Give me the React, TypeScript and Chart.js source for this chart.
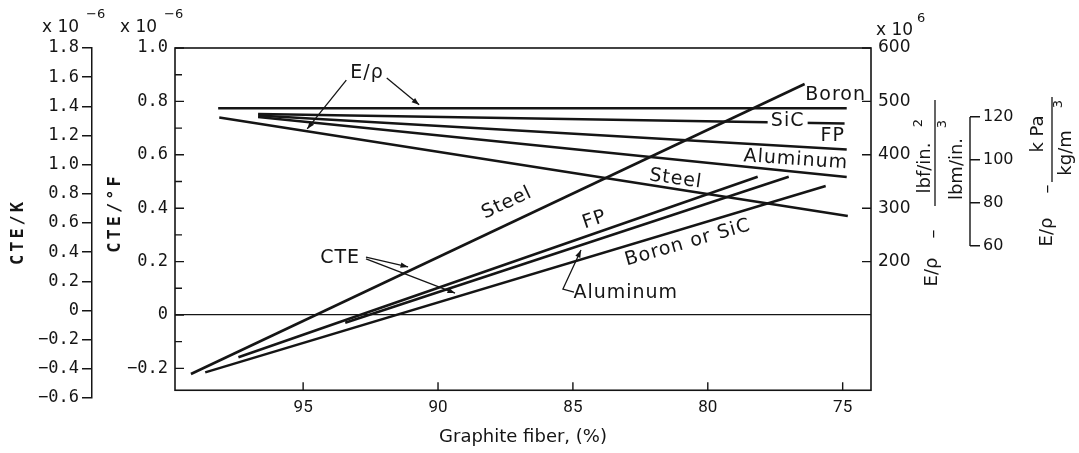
import React, { useEffect, useRef } from 'react';
import { Chart, registerables } from 'chart.js';

Chart.register(...registerables);

// ---- Data (graphite fiber %, value) ----
// Specific modulus E/rho lines (lbf/in.^2 / lbm/in.^3, x 10^6)
const boronEFiber = [98.15, 74.85];
const boronE = [487.1, 487.1];
const sicEFiber = [96.67, 74.93];
const sicE = [476.4, 458.6];
const fpEFiber = [96.67, 74.85];
const fpE = [473.6, 409.9];
const alEFiber = [96.67, 74.85];
const alE = [470.8, 358.4];
const steelEFiber = [98.11, 74.81];
const steelE = [469.9, 285.4];

// CTE lines (CTE/°F, x 10^-6)
const steelCteFiber = [99.16, 76.41];
const steelCte = [-0.221, 0.865];
const boronSicCteFiber = [98.63, 75.63];
const boronSicCte = [-0.215, 0.483];
const fpCteFiber = [97.4, 78.15];
const fpCte = [-0.158, 0.518];
const alCteFiber = [93.44, 77.0];
const alCte = [-0.029, 0.518];

// Ticks
const xTicks = [95, 90, 85, 80, 75];
const cteFTicks = [1.0, 0.9, 0.8, 0.7, 0.6, 0.5, 0.4, 0.3, 0.2, 0.1, 0, -0.1, -0.2];
const cteKTicks = [1.8, 1.6, 1.4, 1.2, 1.0, 0.8, 0.6, 0.4, 0.2, 0, -0.2, -0.4, -0.6];
const eRhoTicks = [600, 500, 400, 300, 200];
const kPaTicks = [120, 100, 80, 60];

// Axis ranges
const xMin = 73.95;
const xMax = 99.75;
const cteFMin = -0.311;
const cteFMax = 1.0;
const frameBottomCte = -0.282;
const cteKMin = -0.6;
const cteKMax = 1.8;
const eRhoMin = -55.5;
const eRhoMax = 600;
const kPaMin = -10.7;
const kPaMax = 152.1;

const INK = '#151515';
const SANS = '"DejaVu Sans", sans-serif';
const MONO = '"DejaVu Sans Mono", monospace';

const pts = (xs: number[], ys: number[]) => xs.map((x, i) => ({ x, y: ys[i] }));

const fmtTick = (v: number) => (Math.abs(v) < 1e-9 ? '0' : (v < 0 ? '\u2212' : '') + Math.abs(v).toFixed(1));

function text(ctx: any, s: string, x: number, y: number, font: string, rotDeg = 0, align: any = 'center', spacing = '0px') {
  ctx.save();
  ctx.translate(x, y);
  ctx.rotate((rotDeg * Math.PI) / 180);
  ctx.font = font;
  ctx.textAlign = align;
  ctx.textBaseline = 'middle';
  try { ctx.letterSpacing = spacing; } catch (e) {}
  ctx.fillStyle = INK;
  ctx.fillText(s, 0, 0);
  ctx.restore();
}

function arrowLine(ctx: any, pts2: number[][], head = true) {
  ctx.save();
  ctx.strokeStyle = INK;
  ctx.fillStyle = INK;
  ctx.lineWidth = 1.3;
  ctx.beginPath();
  ctx.moveTo(pts2[0][0], pts2[0][1]);
  for (let i = 1; i < pts2.length; i++) ctx.lineTo(pts2[i][0], pts2[i][1]);
  ctx.stroke();
  if (head) {
    const [x1, y1] = pts2[pts2.length - 2];
    const [x2, y2] = pts2[pts2.length - 1];
    const a = Math.atan2(y2 - y1, x2 - x1);
    const L = 8;
    const w = 0.35;
    ctx.beginPath();
    ctx.moveTo(x2, y2);
    ctx.lineTo(x2 - L * Math.cos(a - w), y2 - L * Math.sin(a - w));
    ctx.lineTo(x2 - L * Math.cos(a + w), y2 - L * Math.sin(a + w));
    ctx.closePath();
    ctx.fill();
  }
  ctx.restore();
}

const framePlugin = {
  id: 'frame',
  beforeDatasetsDraw(chart: any) {
    const { ctx, chartArea, scales } = chart;
    const xs = scales.x;
    const yF = scales.yF;
    const yE = scales.yE;
    const yk = scales.ykPa;
    const L = chartArea.left;
    const R = chartArea.right;
    const T = yF.getPixelForValue(cteFMax);
    const B = yF.getPixelForValue(frameBottomCte);
    ctx.save();
    ctx.strokeStyle = INK;
    ctx.lineWidth = 1.6;
    ctx.strokeRect(L, T, R - L, B - T);
    ctx.lineWidth = 1.4;
    ctx.beginPath();
    yF.ticks.forEach((t: any) => {
      const py = yF.getPixelForValue(t.value);
      const major = Math.round(t.value * 10) % 2 === 0;
      ctx.moveTo(L, py);
      ctx.lineTo(L + (major ? 9 : 7), py);
    });
    yE.ticks.forEach((t: any) => {
      const py = yE.getPixelForValue(t.value);
      ctx.moveTo(R, py);
      ctx.lineTo(R - 9, py);
    });
    xs.ticks.forEach((t: any) => {
      const px = xs.getPixelForValue(t.value);
      ctx.moveTo(px, B);
      ctx.lineTo(px, B - 8);
    });
    // partial kPa axis line
    ctx.moveTo(yk.left, yk.getPixelForValue(kPaTicks[0]));
    ctx.lineTo(yk.left, yk.getPixelForValue(kPaTicks[kPaTicks.length - 1]));
    ctx.stroke();
    ctx.restore();
  },
  afterDatasetsDraw(chart: any) {
    const { ctx, scales, chartArea } = chart;
    const xs = scales.x;
    const yF = scales.yF;
    const P = (xv: number, fv: number) => [xs.getPixelForValue(xv), yF.getPixelForValue(fv)];
    const lf = `19px ${SANS}`;
    const sp = '1px';

    // SiC label breaks its line
    {
      const [px, py] = P(77.04, 0.727);
      ctx.save();
      ctx.fillStyle = '#ffffff';
      ctx.fillRect(px - 20, py - 6, 40, 10);
      ctx.restore();
      text(ctx, 'SiC', px, py, lf, 0, 'center', sp);
    }
    const lbls: [string, number, number, number][] = [
      ['Boron', 75.26, 0.824, 0],
      ['FP', 75.37, 0.669, 0],
      ['Aluminum', 76.74, 0.581, 4],
      ['Steel', 81.19, 0.509, 8],
      ['Steel', 87.44, 0.419, -25],
      ['FP', 84.19, 0.356, -19],
      ['Boron or SiC', 80.74, 0.27, -16],
      ['Aluminum', 83.04, 0.082, 0],
      ['E/\u03c1', 92.63, 0.906, 0],
      ['CTE', 93.63, 0.213, 0],
    ];
    lbls.forEach(([s, xv, fv, r]) => {
      const [px, py] = P(xv, fv);
      text(ctx, s, px, py, lf, r, 'center', sp);
    });

    // leaders
    arrowLine(ctx, [P(93.4, 0.88), P(94.85, 0.697)]);
    arrowLine(ctx, [P(91.9, 0.888), P(90.7, 0.787)]);
    arrowLine(ctx, [P(92.67, 0.217), P(91.11, 0.18)]);
    arrowLine(ctx, [P(92.67, 0.21), P(89.37, 0.082)]);
    arrowLine(ctx, [P(84.96, 0.086), P(85.37, 0.097), P(84.7, 0.243)]);
    void chartArea;
  },
  afterDraw(chart: any) {
    const { ctx, chartArea } = chart;
    const big = `17px ${SANS}`;
    const sup = `13px ${SANS}`;
    // exponents
    text(ctx, 'x 10', 42, 28, big, 0, 'left');
    text(ctx, '\u22126', 86, 15, sup, 0, 'left');
    text(ctx, 'x 10', 120, 28, big, 0, 'left');
    text(ctx, '\u22126', 164, 15, sup, 0, 'left');
    text(ctx, 'x 10', 876, 31, big, 0, 'left');
    text(ctx, '6', 917, 19, sup, 0, 'left');

    // left titles
    text(ctx, 'CTE/K', 19, 232, `bold 17px ${MONO}`, -90, 'center', '3px');
    text(ctx, 'CTE/\u00b0F', 116, 213, `bold 17px ${MONO}`, -90, 'center', '3px');

    // x title
    text(ctx, 'Graphite fiber, (%)', (chartArea.left + chartArea.right) / 2, 437, `18px ${SANS}`, 0, 'center');

    // right title 1: E/rho - lbf/in.^2 / lbm/in.^3
    const f18 = `18px ${SANS}`;
    text(ctx, 'E/\u03c1', 932, 272, f18, -90);
    text(ctx, '\u2013', 933, 234, f18, -90);
    text(ctx, 'lbf/in.', 925, 168, f18, -90);
    text(ctx, '2', 919, 123, sup, -90);
    text(ctx, 'lbm/in.', 957, 169, f18, -90);
    text(ctx, '3', 943, 124, sup, -90);
    // right title 2: E/rho - kPa / kg/m^3
    text(ctx, 'E/\u03c1', 1047, 232, f18, -90);
    text(ctx, '\u2013', 1047, 189, f18, -90);
    text(ctx, 'k Pa', 1038, 134, f18, -90);
    text(ctx, 'kg/m', 1066, 153, f18, -90);
    text(ctx, '3', 1059, 104, sup, -90);

    ctx.save();
    ctx.strokeStyle = INK;
    ctx.lineWidth = 1.3;
    ctx.beginPath();
    ctx.moveTo(935, 100);
    ctx.lineTo(935, 206);
    ctx.moveTo(1052, 97);
    ctx.lineTo(1052, 182);
    ctx.stroke();
    ctx.restore();
  },
};

export default function App() {
  const ref = useRef<HTMLCanvasElement | null>(null);
  useEffect(() => {
    if (!ref.current) return;
    const line = (data: any, yAxisID: string) => ({
      data,
      yAxisID,
      xAxisID: 'x',
      showLine: true,
      borderColor: INK,
      borderWidth: 2.6,
      pointRadius: 0,
      fill: false,
      tension: 0,
    });
    const chart = new Chart(ref.current, {
      type: 'scatter',
      data: {
        datasets: [
          line(pts(boronEFiber, boronE), 'yE'),
          line(pts(sicEFiber, sicE), 'yE'),
          line(pts(fpEFiber, fpE), 'yE'),
          line(pts(alEFiber, alE), 'yE'),
          line(pts(steelEFiber, steelE), 'yE'),
          line(pts(steelCteFiber, steelCte), 'yF'),
          line(pts(boronSicCteFiber, boronSicCte), 'yF'),
          line(pts(fpCteFiber, fpCte), 'yF'),
          line(pts(alCteFiber, alCte), 'yF'),
        ] as any,
      },
      options: {
        animation: false,
        responsive: false,
        devicePixelRatio: 1,
        layout: { padding: { top: 48, bottom: 55, left: 0, right: 0 } },
        plugins: { legend: { display: false }, tooltip: { enabled: false } },
        scales: {
          x: {
            type: 'linear',
            position: { yF: frameBottomCte } as any,
            min: xMin,
            max: xMax,
            reverse: true,
            afterBuildTicks: (s: any) => { s.ticks = xTicks.map((v) => ({ value: v })); },
            ticks: { autoSkip: false, maxRotation: 0, padding: 7, color: INK, font: { family: 'Roboto', size: 17 }, callback: (v: any) => String(v) },
            grid: { display: false, drawTicks: false },
            border: { display: false },
          },
          yK: {
            type: 'linear',
            position: 'left',
            weight: 2,
            min: cteKMin,
            max: cteKMax,
            afterBuildTicks: (s: any) => { s.ticks = cteKTicks.map((v) => ({ value: v })); },
            afterFit: (s: any) => { s.width = 92; },
            ticks: { autoSkip: false, padding: 3, color: INK, font: { family: 'DejaVu Sans Mono', size: 17 }, callback: (v: any) => fmtTick(Number(v)) },
            grid: { drawOnChartArea: false, drawTicks: true, tickLength: 10, color: INK, lineWidth: 1.5 },
            border: { display: true, color: INK, width: 1.5 },
          },
          yF: {
            type: 'linear',
            position: 'left',
            weight: 1,
            min: cteFMin,
            max: cteFMax,
            afterBuildTicks: (s: any) => { s.ticks = cteFTicks.map((v) => ({ value: v })); },
            afterFit: (s: any) => { s.width = 83; },
            ticks: {
              autoSkip: false,
              padding: 7,
              color: INK,
              font: { family: 'DejaVu Sans Mono', size: 17 },
              callback: (v: any) => (Math.round(Number(v) * 10) % 2 === 0 ? fmtTick(Number(v)) : ''),
            },
            grid: {
              drawTicks: false,
              lineWidth: 1.3,
              color: (c: any) => (c.tick && Math.abs(c.tick.value) < 1e-9 ? INK : 'rgba(0,0,0,0)'),
            },
            border: { display: false },
          },
          yE: {
            type: 'linear',
            position: 'right',
            weight: 1,
            min: eRhoMin,
            max: eRhoMax,
            afterBuildTicks: (s: any) => { s.ticks = eRhoTicks.map((v) => ({ value: v })); },
            afterFit: (s: any) => { s.width = 99; },
            ticks: { autoSkip: false, padding: 7, color: INK, font: { family: 'DejaVu Sans', size: 17 }, callback: (v: any) => String(v) },
            grid: { display: false, drawTicks: false },
            border: { display: false },
          },
          ykPa: {
            type: 'linear',
            position: 'right',
            weight: 2,
            min: kPaMin,
            max: kPaMax,
            afterBuildTicks: (s: any) => { s.ticks = kPaTicks.map((v) => ({ value: v })); },
            afterFit: (s: any) => { s.width = 109; },
            ticks: { autoSkip: false, padding: 3, color: INK, font: { family: 'DejaVu Sans', size: 16 }, callback: (v: any) => String(v) },
            grid: { drawOnChartArea: false, drawTicks: true, tickLength: 10, color: INK, lineWidth: 1.5 },
            border: { display: false },
          },
        } as any,
      },
      plugins: [framePlugin],
    });
    return () => chart.destroy();
  }, []);
  return (
    <div style={{ position: 'fixed', left: 0, top: 0, width: 1079, height: 453, background: '#fff' }}>
      <canvas ref={ref} width={1079} height={453} style={{ display: 'block', width: 1079, height: 453 }} />
    </div>
  );
}
